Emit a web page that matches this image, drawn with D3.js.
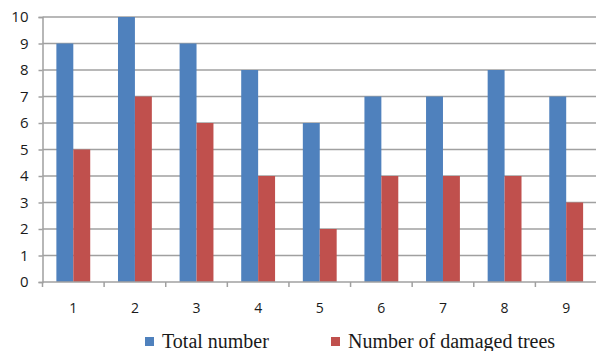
<!DOCTYPE html>
<html>
<head>
<meta charset="utf-8">
<script src="https://cdn.jsdelivr.net/npm/d3@7"></script>
<style>
  html, body { margin: 0; padding: 0; background: #fff; }
  svg { display: block; }
</style>
</head>
<body>
<svg id="chart" width="596" height="351"></svg>
<script>
// Plot numbers (sites 1–9)
const categories = ["1", "2", "3", "4", "5", "6", "7", "8", "9"];
const totalNumber = [9, 10, 9, 8, 6, 7, 7, 8, 7];
const damagedTrees = [5, 7, 6, 4, 2, 4, 4, 4, 3];
const yTicks = [0, 1, 2, 3, 4, 5, 6, 7, 8, 9, 10];
const seriesNames = ["Total number", "Number of damaged trees"];
const seriesColors = ["#4F81BD", "#C0504D"];

const svg = d3.select("#chart");
const plotLeft = 42.5, plotRight = 597, plotTop = 17, plotBottom = 282;

const x = d3.scaleBand().domain(categories).range([plotLeft, plotRight]).paddingInner(0).paddingOuter(0);
const inner = d3.scaleBand().domain([0, 1]).range([0, x.bandwidth()]).paddingInner(0).paddingOuter(0.82);
const y = d3.scaleLinear().domain([0, 10]).range([plotBottom, plotTop]);

// Horizontal gridlines
svg.append("g")
  .selectAll("line")
  .data(yTicks.filter(d => d > 0))
  .join("line")
  .attr("x1", plotLeft).attr("x2", plotRight)
  .attr("y1", d => y(d)).attr("y2", d => y(d))
  .attr("stroke", "#a0a0a0").attr("stroke-width", 1.5);

// Bars
const groups = svg.append("g")
  .selectAll("g")
  .data(categories.map((c, i) => ({ c, vals: [totalNumber[i], damagedTrees[i]] })))
  .join("g")
  .attr("transform", d => `translate(${x(d.c)},0)`);

groups.selectAll("rect")
  .data(d => d.vals.map((v, k) => ({ v, k })))
  .join("rect")
  .attr("x", d => inner(d.k))
  .attr("width", inner.bandwidth())
  .attr("y", d => y(d.v))
  .attr("height", d => y(0) - y(d.v))
  .attr("fill", d => seriesColors[d.k]);

// Y axis
const yAxis = svg.append("g")
  .attr("transform", `translate(${plotLeft},0)`)
  .call(d3.axisLeft(y).tickValues(yTicks).tickSize(4).tickPadding(10).tickFormat(d3.format("d")));
yAxis.select(".domain").attr("stroke", "#a0a0a0").attr("stroke-width", 1.5);
yAxis.selectAll(".tick line").attr("stroke", "#a0a0a0").attr("stroke-width", 1.5);
yAxis.selectAll(".tick text")
  .attr("font-family", "Open Sans, sans-serif")
  .attr("font-size", 15).attr("fill", "#1a1a1a");

// X axis with tick marks at category boundaries
const xAxis = svg.append("g").attr("transform", `translate(0,${plotBottom})`);
xAxis.append("line")
  .attr("x1", plotLeft).attr("x2", plotRight).attr("y1", 0).attr("y2", 0)
  .attr("stroke", "#a0a0a0").attr("stroke-width", 1.5);
xAxis.selectAll("line.tk")
  .data(categories)
  .join("line")
  .attr("class", "tk")
  .attr("x1", d => x(d)).attr("x2", d => x(d))
  .attr("y1", 0).attr("y2", 5)
  .attr("stroke", "#a0a0a0").attr("stroke-width", 1.5);
xAxis.selectAll("text")
  .data(categories)
  .join("text")
  .attr("x", d => x(d) + x.bandwidth() / 2)
  .attr("y", 31)
  .attr("text-anchor", "middle")
  .attr("font-family", "Open Sans, sans-serif")
  .attr("font-size", 14).attr("fill", "#1a1a1a")
  .text(d => d);

// Legend
const legendX = [145, 331];
const legend = svg.append("g")
  .selectAll("g")
  .data(seriesNames)
  .join("g")
  .attr("transform", (d, i) => `translate(${legendX[i]},0)`);
legend.append("rect")
  .attr("x", 0).attr("y", 337).attr("width", 9).attr("height", 9)
  .attr("fill", (d, i) => seriesColors[i]);
legend.append("text")
  .attr("x", 17).attr("y", 348)
  .attr("font-family", "Liberation Serif, serif")
  .attr("font-size", 20).attr("fill", "#1a1a1a")
  .text(d => d);
</script>
</body>
</html>
